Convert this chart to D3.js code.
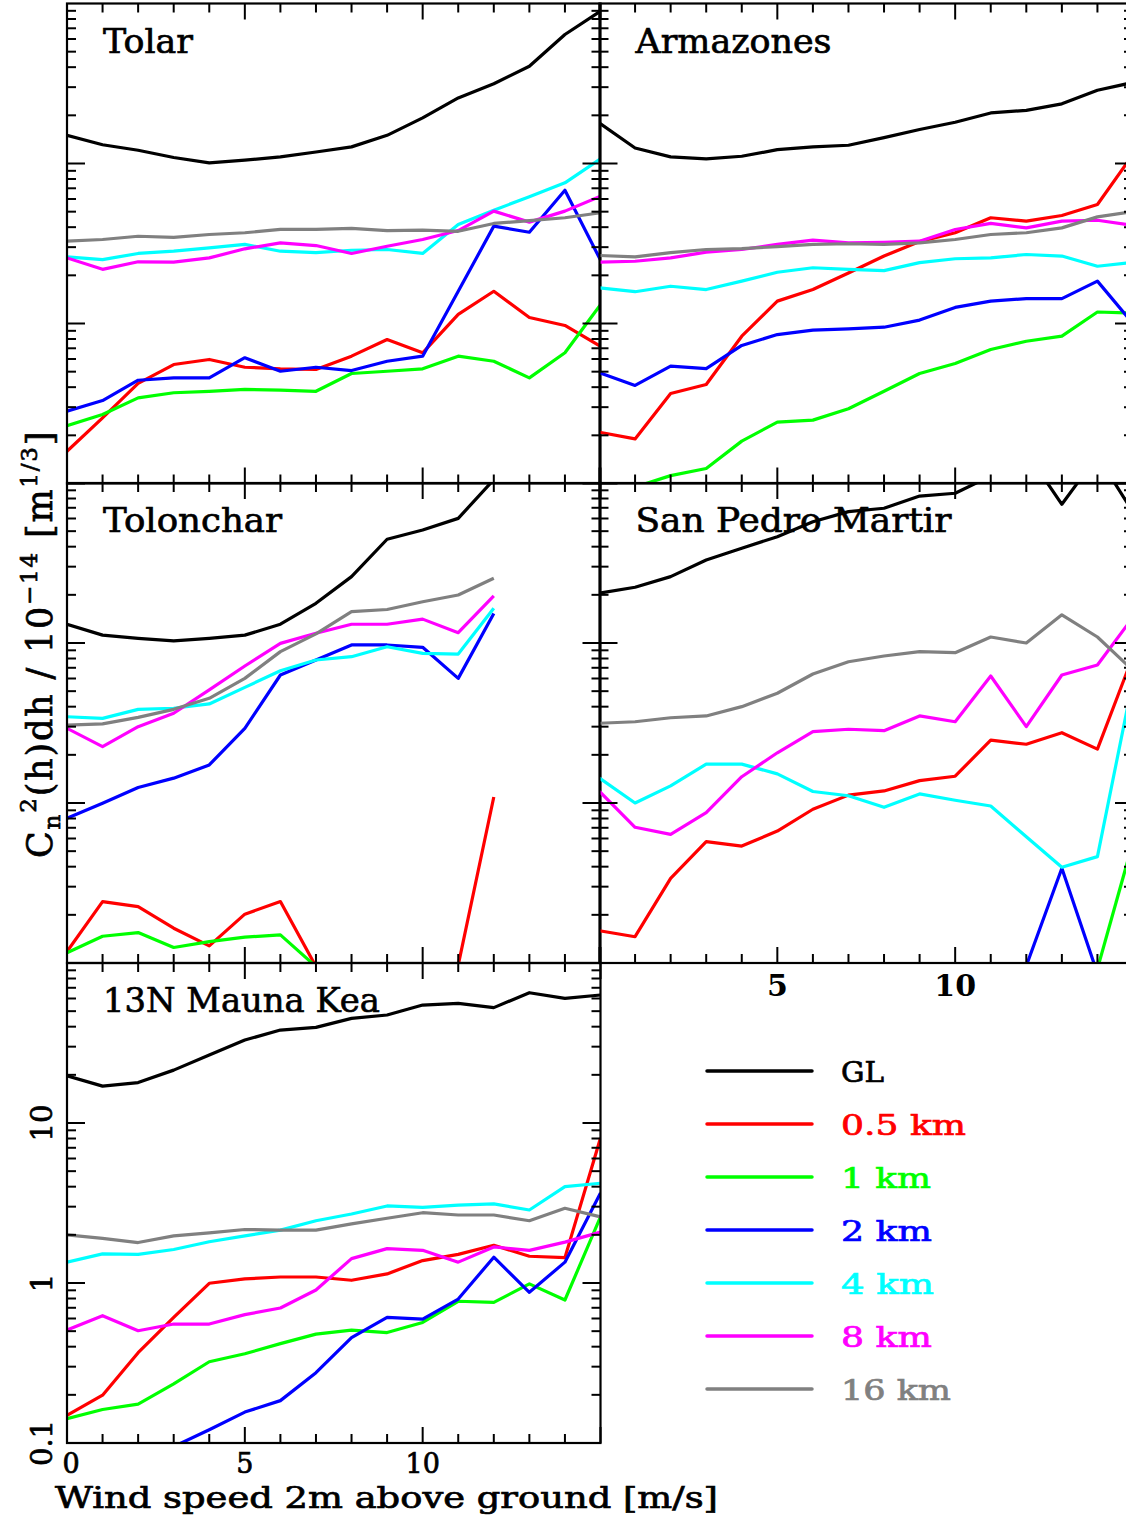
<!DOCTYPE html>
<html><head><meta charset="utf-8">
<script src="https://cdn.jsdelivr.net/npm/d3@7"></script>
<style>body{margin:0;background:#fff}svg{display:block}</style>
</head><body><svg id="c" width="1126" height="1517"></svg>
<script>
// ---------------- data ----------------
const windSpeed = [0,1,2,3,4,5,6,7,8,9,10,11,12,13,14,15];
const seriesNames = ["GL","0.5 km","1 km","2 km","4 km","8 km","16 km"];
const sites = ["Tolar","Armazones","Tolonchar","San Pedro Martir","13N Mauna Kea"];
const yTickLabels = ["0.1","1","10"];
const xTickLabels = ["0","5","10"];

const tolar_GL = [15.0,13.1,12.1,10.9,10.1,10.5,11.0,11.8,12.7,15.0,19.3,25.7,31.5,40.5,64,89.5];
const tolar_05 = [0.159,0.257,0.422,0.554,0.596,0.533,0.521,0.516,0.625,0.794,0.656,1.14,1.59,1.09,0.972,0.72];
const tolar_1  = [0.230,0.270,0.343,0.369,0.377,0.387,0.383,0.377,0.487,0.503,0.521,0.625,0.581,0.457,0.656,1.31];
const tolar_2  = [0.283,0.330,0.442,0.457,0.457,0.611,0.503,0.533,0.508,0.581,0.625,1.59,4.06,3.72,6.81,2.49];
const tolar_4  = [2.61,2.51,2.74,2.83,2.97,3.12,2.83,2.77,2.87,2.90,2.74,4.16,5.11,6.19,7.57,10.7];
const tolar_8  = [2.57,2.18,2.43,2.42,2.57,2.93,3.19,3.07,2.74,3.04,3.35,3.81,5.04,4.30,5.04,6.25];
const tolar_16 = [3.27,3.35,3.51,3.45,3.60,3.69,3.87,3.87,3.93,3.81,3.83,3.77,4.22,4.40,4.58,4.92];

const armazones_GL = [17.9,12.5,11.0,10.7,11.1,12.2,12.7,13.0,14.5,16.3,18.1,20.7,21.5,23.6,28.7,32.1];
const armazones_05 = [0.209,0.190,0.365,0.416,0.833,1.38,1.63,2.07,2.64,3.25,3.69,4.58,4.36,4.73,5.54,11.4];
const armazones_1  = [0.075,0.095,0.112,0.124,0.184,0.242,0.249,0.293,0.377,0.487,0.562,0.688,0.775,0.833,1.18,1.16];
const armazones_2  = [0.492,0.410,0.541,0.523,0.729,0.853,0.908,0.926,0.948,1.05,1.26,1.38,1.43,1.43,1.84,1.0];
const armazones_4  = [1.67,1.58,1.71,1.63,1.84,2.09,2.23,2.18,2.14,2.40,2.54,2.57,2.70,2.64,2.28,2.41];
const armazones_8  = [2.42,2.45,2.57,2.79,2.90,3.12,3.32,3.19,3.22,3.27,3.87,4.22,3.96,4.36,4.42,4.10];
const armazones_16 = [2.66,2.61,2.77,2.90,2.94,3.02,3.12,3.15,3.12,3.19,3.35,3.60,3.69,3.96,4.64,5.01];

const tolonchar_GL = [13.1,11.2,10.7,10.3,10.7,11.2,13.1,17.7,26.0,44.5,50.8,60.1,105,null,null,null];
const tolonchar_05 = [0.118,0.242,0.225,0.165,0.128,0.202,0.242,0.095,null,null,null,0.097,1.09,null,null,null];
const tolonchar_1  = [0.116,0.147,0.155,0.125,0.136,0.145,0.150,0.095,null,null,null,null,null,null,null,null];
const tolonchar_2  = [0.802,0.996,1.25,1.43,1.73,2.93,6.31,7.83,9.72,9.72,9.40,6.01,15.3,null,null,null];
const tolonchar_4  = [3.46,3.38,3.85,3.91,4.16,5.28,6.71,7.83,8.21,9.48,8.62,8.53,16.5,null,null,null];
const tolonchar_8  = [2.93,2.25,3.00,3.64,5.09,7.18,9.95,11.5,13.1,13.1,14.1,11.6,19.7,null,null,null];
const tolonchar_16 = [3.07,3.12,3.43,3.85,4.51,6.01,8.83,11.4,15.7,16.2,18.1,19.95,25.4,null,null,null];

const spm_GL = [20.5,22.3,26.0,33.0,39.1,46.2,57.3,66.2,69.5,82.9,86.3,110.6,156,73.6,148,65.9];
const spm_05 = [0.159,0.146,0.338,0.573,0.538,0.668,0.914,1.12,1.19,1.38,1.47,2.47,2.33,2.75,2.17,8.29];
const spm_1  = [null,null,null,null,null,null,null,null,null,null,null,null,null,null,0.092,0.570];
const spm_2  = [null,null,null,null,null,null,null,null,null,null,null,null,0.096,0.391,0.086,null];
const spm_4  = [1.43,1.00,1.28,1.75,1.75,1.52,1.18,1.11,0.940,1.14,1.04,0.958,0.615,0.397,0.462,5.87];
const spm_8  = [1.18,0.705,0.637,0.870,1.46,2.06,2.79,2.89,2.83,3.50,3.22,6.22,3.00,6.31,7.29,14.5];
const spm_16 = [3.15,3.22,3.41,3.50,4.00,4.85,6.40,7.64,8.29,8.83,8.70,10.9,10.0,15.0,10.9,6.73];

const mk_GL = [19.7,17.0,17.9,21.4,26.6,33.0,38.1,39.6,45.1,47.3,54.6,55.9,52.6,65.2,60.1,63.1];
const mk_05 = [0.149,0.199,0.367,0.609,0.996,1.06,1.09,1.09,1.04,1.14,1.38,1.51,1.72,1.47,1.44,8.05];
const mk_1  = [0.142,0.162,0.175,0.234,0.322,0.361,0.418,0.479,0.507,0.490,0.567,0.769,0.757,0.987,0.783,2.59];
const mk_2  = [null,null,null,0.095,0.121,0.156,0.184,0.275,0.456,0.609,0.595,0.794,1.45,0.875,1.35,3.65];
const mk_4  = [1.35,1.52,1.51,1.62,1.81,1.97,2.14,2.45,2.70,3.03,2.97,3.07,3.12,2.86,4.00,4.20];
const mk_8  = [0.508,0.625,0.503,0.554,0.554,0.634,0.698,0.904,1.42,1.64,1.60,1.35,1.68,1.60,1.80,2.08];
const mk_16 = [2.0,1.90,1.79,1.97,2.06,2.16,2.14,2.14,2.34,2.54,2.75,2.66,2.66,2.45,2.93,2.59];

// ---------------- styles / layout ----------------
const colors = ["#000000","#ff0000","#00ff00","#0000ff","#00ffff","#ff00ff","#808080"];
const FONT = "DejaVu Serif";
const colX = [[67,600.5],[599.5,1133]];
const rowY = [[3.5,483.5],[483,963],[963,1443]];
const panelDefs = [
  {site:0,col:0,row:0,series:[tolar_GL,tolar_05,tolar_1,tolar_2,tolar_4,tolar_8,tolar_16],lw:90},
  {site:1,col:1,row:0,series:[armazones_GL,armazones_05,armazones_1,armazones_2,armazones_4,armazones_8,armazones_16],lw:196},
  {site:2,col:0,row:1,series:[tolonchar_GL,tolonchar_05,tolonchar_1,tolonchar_2,tolonchar_4,tolonchar_8,tolonchar_16],lw:179},
  {site:3,col:1,row:1,series:[spm_GL,spm_05,spm_1,spm_2,spm_4,spm_8,spm_16],lw:316},
  {site:4,col:0,row:2,series:[mk_GL,mk_05,mk_1,mk_2,mk_4,mk_8,mk_16],lw:277}
];

const svg = d3.select("#c");
svg.append("rect").attr("width",1126).attr("height",1517).attr("fill","#fff");
const defs = svg.append("defs");

function heavy(sel, col){ return sel.attr("stroke", col||"#000").attr("stroke-width",0.7); }

panelDefs.forEach((p,pi)=>{
  const [x0,x1] = colX[p.col];
  const [top,bottom] = rowY[p.row];
  const x = d3.scaleLinear().domain([0,15]).range([x0,x1]);
  const y = d3.scaleLog().domain([0.1,100]).range([bottom,top]);
  const g = svg.append("g");
  defs.append("clipPath").attr("id","clip"+pi).append("rect")
    .attr("x",x0).attr("y",top).attr("width",x1-x0).attr("height",bottom-top);
  const line = d3.line().defined(d=>d[1]!=null).x(d=>x(d[0])).y(d=>y(d[1]));
  const lg = g.append("g").attr("clip-path","url(#clip"+pi+")");
  p.series.forEach((s,si)=>{
    lg.append("path").datum(windSpeed.map((w,i)=>[w,s[i]]))
      .attr("d",line).attr("fill","none").attr("stroke",colors[si])
      .attr("stroke-width",3.2).attr("stroke-linejoin","round");
  });
  // ticks
  const tk = g.append("g").attr("stroke","#000").attr("stroke-width",2);
  windSpeed.forEach(w=>{
    const L = (w%5===0)?16:9;
    tk.append("line").attr("x1",x(w)).attr("x2",x(w)).attr("y1",bottom).attr("y2",bottom-L);
    tk.append("line").attr("x1",x(w)).attr("x2",x(w)).attr("y1",top).attr("y2",top+L);
  });
  [0.1,1,10].forEach(dec=>{
    for(let m=1;m<=9;m++){
      const v=dec*m; const L=(m===1)?18:9; const yy=y(v);
      tk.append("line").attr("x1",x0).attr("x2",x0+L).attr("y1",yy).attr("y2",yy);
      tk.append("line").attr("x1",x1).attr("x2",x1-L).attr("y1",yy).attr("y2",yy);
    }
  });
  g.append("rect").attr("x",x0).attr("y",top).attr("width",x1-x0).attr("height",bottom-top)
    .attr("fill","none").attr("stroke","#000").attr("stroke-width",2.2);
  heavy(g.append("text").attr("x",x0+36).attr("y",top+49).attr("font-family",FONT).attr("font-size",34)
    .attr("textLength",p.lw).attr("lengthAdjust","spacingAndGlyphs").text(sites[p.site]));

  if(p.row===2){
    [0,5,10].forEach((v,i)=>{
      heavy(g.append("text").attr("x",x(v)+(i===0?4:0)).attr("y",bottom+30).attr("text-anchor","middle")
        .attr("font-family",FONT).attr("font-size",27).text(xTickLabels[i]));
    });
    [0.1,1,10].forEach((v,i)=>{
      heavy(g.append("text").attr("transform",`translate(52,${y(v)}) rotate(-90)`).attr("text-anchor","middle")
        .attr("font-family",FONT).attr("font-size",29).text(yTickLabels[i]));
    });
  }
  if(p.site===3){
    [5,10].forEach((v,i)=>{
      g.append("text").attr("x",x(v)).attr("y",bottom+33).attr("text-anchor","middle")
        .attr("font-family",FONT).attr("font-weight","bold").attr("font-size",30).text(xTickLabels[i+1]);
    });
  }
});

// axis titles
heavy(svg.append("text").attr("x",55).attr("y",1508).attr("font-family",FONT).attr("font-size",29)
  .attr("textLength",663).attr("lengthAdjust","spacingAndGlyphs").text("Wind speed 2m above ground [m/s]"));

const yt = heavy(svg.append("text").attr("transform","translate(52,858) rotate(-90)")
  .attr("font-family",FONT).attr("font-size",35).attr("letter-spacing",1.8));
yt.append("tspan").text("C");
yt.append("tspan").attr("font-size",23).attr("dy",8).text("n");
yt.append("tspan").attr("font-size",23).attr("dy",-24).text("2");
yt.append("tspan").attr("dy",16).text("(h)dh / 10");
yt.append("tspan").attr("font-size",23).attr("dy",-15).text("\u221214");
yt.append("tspan").attr("dy",15).text(" [m");
yt.append("tspan").attr("font-size",23).attr("dy",-15).text("1/3");
yt.append("tspan").attr("dy",15).text("]");

// legend
const legW = [43,125,90,91,93,91,110];
seriesNames.forEach((n,i)=>{
  const ly = 1071 + i*53;
  svg.append("line").attr("x1",707).attr("x2",812).attr("y1",ly).attr("y2",ly)
    .attr("stroke",colors[i]).attr("stroke-width",3.5).attr("stroke-linecap","round");
  heavy(svg.append("text").attr("x",841).attr("y",ly+11).attr("font-family",FONT).attr("font-size",28)
    .attr("fill",colors[i]).attr("textLength",legW[i]).attr("lengthAdjust","spacingAndGlyphs").text(n), colors[i]);
});
</script></body></html>
